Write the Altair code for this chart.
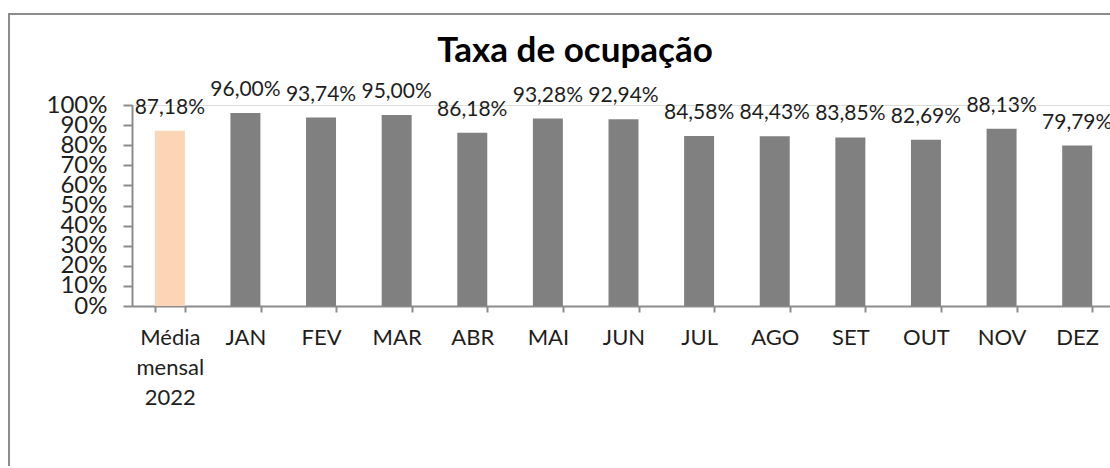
import altair as alt
import pandas as pd

categories = ["Média mensal 2022", "JAN", "FEV", "MAR", "ABR", "MAI", "JUN",
              "JUL", "AGO", "SET", "OUT", "NOV", "DEZ"]
values = [87.18, 96.00, 93.74, 95.00, 86.18, 93.28, 92.94,
          84.58, 84.43, 83.85, 82.69, 88.13, 79.79]
kinds = ["media"] + ["mes"] * 12
y_ticks = [0, 0.1, 0.2, 0.3, 0.4, 0.5, 0.6, 0.7, 0.8, 0.9, 1.0]
title_text = "Taxa de ocupação"

df = pd.DataFrame({
    "cat": categories,
    "val": [v / 100 for v in values],
    "label": [f"{v:.2f}".replace(".", ",") + "%" for v in values],
    "kind": kinds,
})

FONT = "Lato"
AX = "#8c8c8c"
TXT = "#1e1e1e"

x_axis = alt.Axis(title=None, labelAngle=0, labelFont=FONT, labelFontSize=22,
                  labelColor=TXT, labelPadding=15, labelLineHeight=30,
                  labelExpr="datum.value == 'Média mensal 2022' ? ['Média', 'mensal', '2022'] : datum.value",
                  tickBand="extent", tickSize=6, tickColor=AX, tickWidth=2,
                  domainColor=AX, domainWidth=2, labelOverlap=False)
y_axis = alt.Axis(title=None, values=y_ticks, tickCount=11, format=".0%", labelFont=FONT,
                  labelFontSize=24, labelColor=TXT, labelPadding=16,
                  labelOverlap=False, labelFlush=False, grid=False,
                  tickSize=9, tickColor=AX, tickWidth=2,
                  domainColor=AX, domainWidth=2)
x_scale = alt.Scale(paddingInner=0.6, paddingOuter=0.3, range=[0, 983])
y_scale = alt.Scale(domain=[0, 1], nice=False)

base = alt.Chart(df)

bars = base.mark_bar(size=30).encode(
    x=alt.X("cat:N", sort=categories, scale=x_scale, axis=x_axis),
    y=alt.Y("val:Q", scale=y_scale, axis=y_axis),
    color=alt.Color("kind:N", scale=alt.Scale(domain=["media", "mes"],
                                              range=["#fbd5b5", "#808080"]), legend=None),
)

labels = base.mark_text(font=FONT, fontSize=21, color=TXT, baseline="alphabetic",
                        align="center", dy=-17).encode(
    x=alt.X("cat:N", sort=categories, scale=x_scale, axis=x_axis),
    y=alt.Y("val:Q", scale=y_scale, axis=y_axis),
    text="label:N")

one = alt.Data(values=[{}])
frame_top = alt.Chart(one).mark_rule(color="#8c8c8c", strokeWidth=2).encode(
    x=alt.value(-124), x2=alt.value(978), y=alt.value(-91))
frame_left = alt.Chart(one).mark_rule(color="#8c8c8c", strokeWidth=2).encode(
    x=alt.value(-123), y=alt.value(-92), y2=alt.value(361))

title = alt.Chart(one).mark_text(
    font=FONT, fontSize=35, fontWeight="bold", color="#000000",
    align="center", baseline="alphabetic").encode(
    x=alt.value(443), y=alt.value(-43), text=alt.value(title_text))

chart = alt.layer(frame_top, frame_left, bars, labels, title).properties(
    width=978, height=201,
    autosize=alt.AutoSizeParams(type="none"),
    padding={"left": 132, "top": 105, "right": 0, "bottom": 160},
).configure_view(stroke=None, fill=None).configure(background="white")

chart.save("out.html", embed_options={"renderer": "svg", "actions": False})
